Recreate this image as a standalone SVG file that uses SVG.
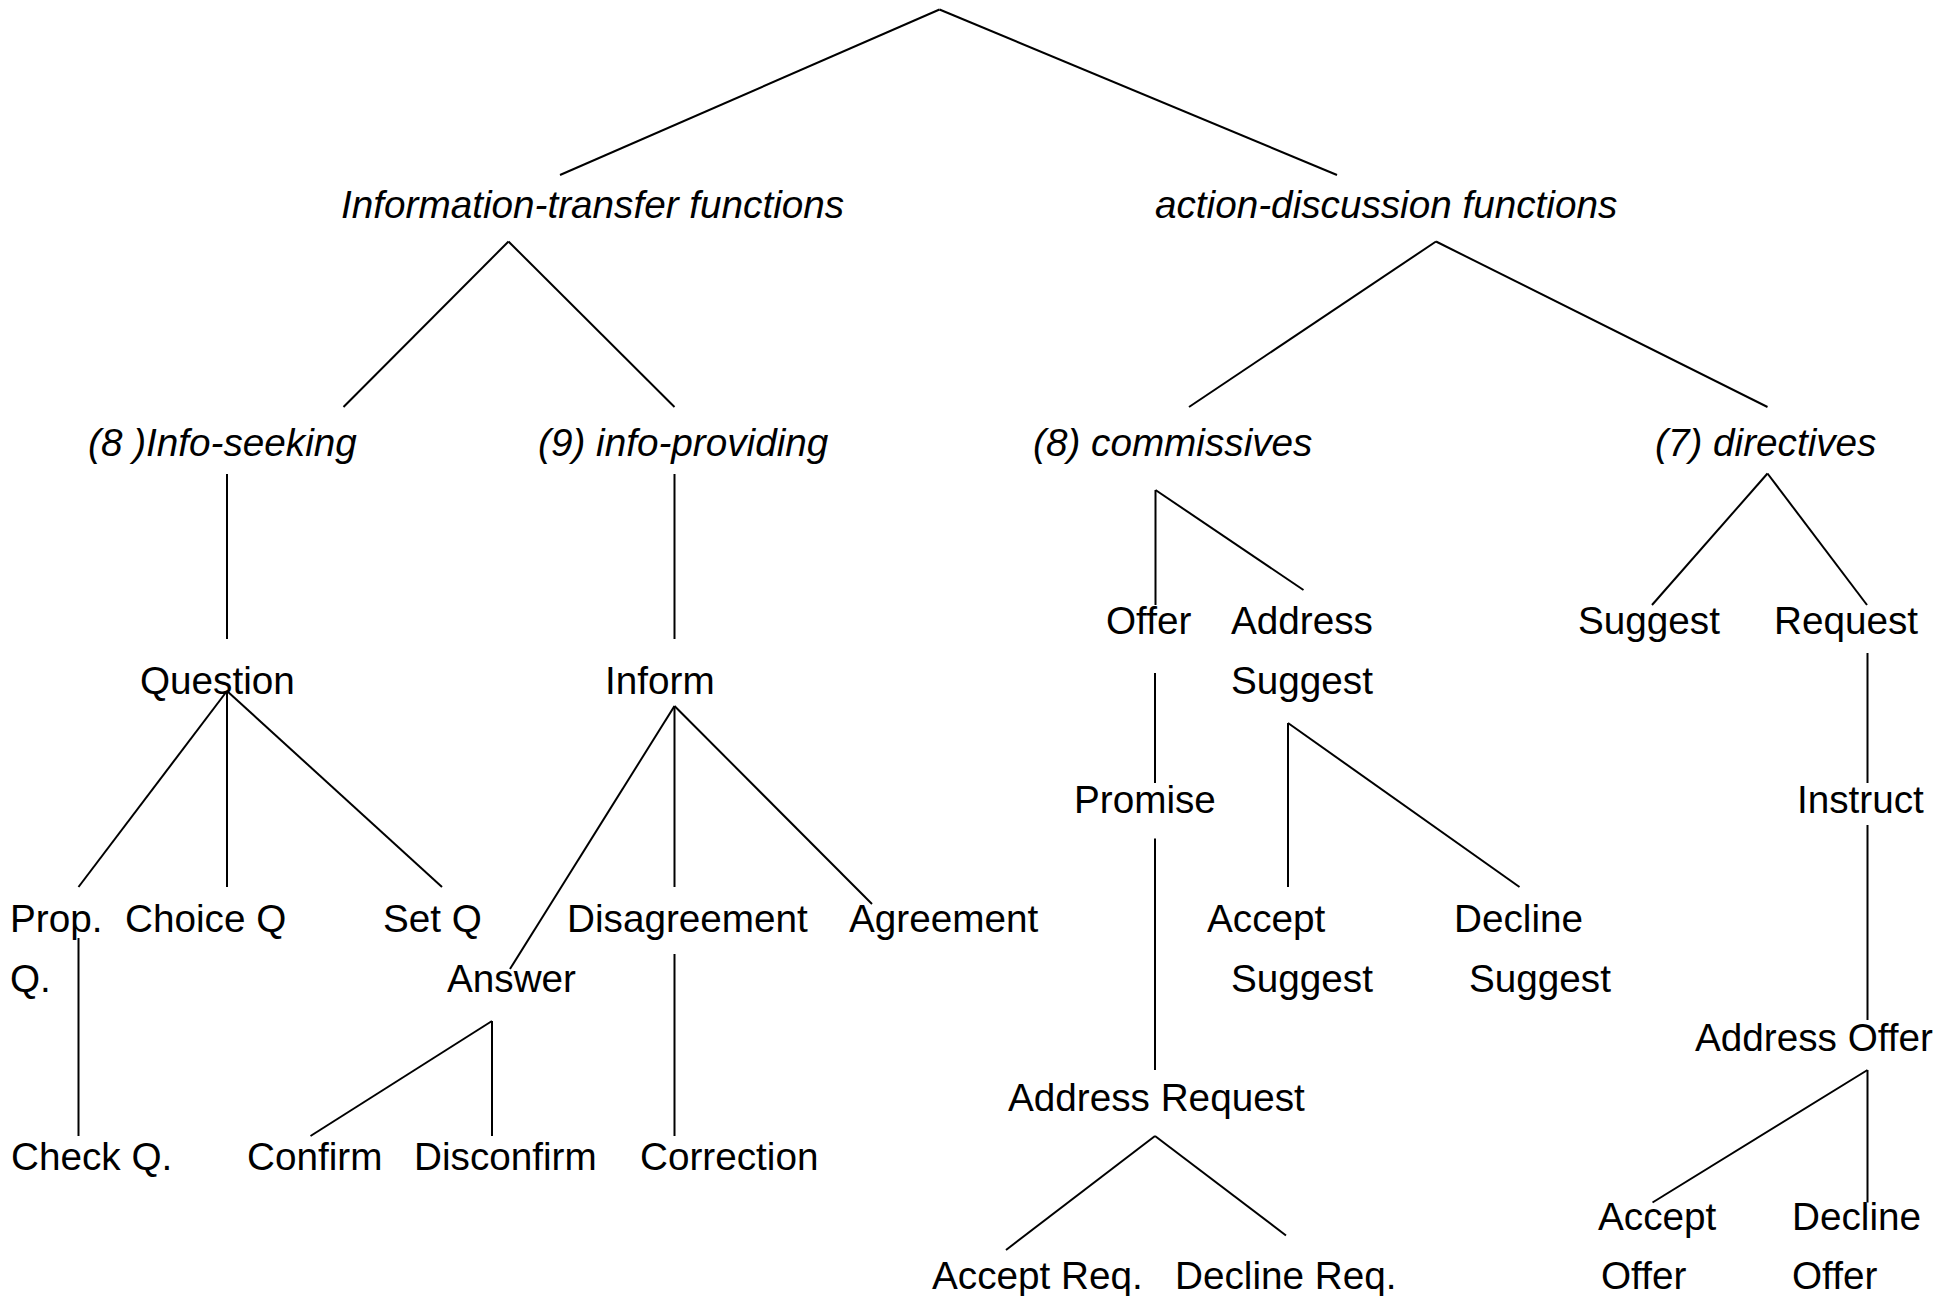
<svg xmlns="http://www.w3.org/2000/svg" width="1957" height="1296" viewBox="0 0 1957 1296">
<style>
.t{font-family:"Liberation Sans",Arial,sans-serif;font-size:38.7px;fill:#000}
.i{font-style:italic}
.c line{stroke:#000;stroke-width:2;fill:none}
</style>
<rect width="1957" height="1296" fill="#fff"/>
<g id="connectors" class="c">
<line x1="939.5" y1="9.5" x2="560" y2="175"/>
<line x1="939.5" y1="9.5" x2="1337" y2="175"/>
<line x1="508.5" y1="241.5" x2="343.5" y2="407"/>
<line x1="508.5" y1="241.5" x2="674.5" y2="407"/>
<line x1="1436" y1="241.5" x2="1189" y2="407"/>
<line x1="1436" y1="241.5" x2="1767.5" y2="407"/>
<line x1="227" y1="474" x2="227" y2="639"/>
<line x1="674.5" y1="474" x2="674.5" y2="639"/>
<line x1="227" y1="691" x2="78.5" y2="887"/>
<line x1="227" y1="691" x2="227" y2="887"/>
<line x1="227" y1="691" x2="442" y2="887"/>
<line x1="78.5" y1="938" x2="78.5" y2="1136"/>
<line x1="674.5" y1="706" x2="510" y2="969"/>
<line x1="674.5" y1="706" x2="674.5" y2="887"/>
<line x1="674.5" y1="706" x2="872" y2="904"/>
<line x1="674.5" y1="954" x2="674.5" y2="1136"/>
<line x1="492" y1="1021" x2="310.5" y2="1136"/>
<line x1="492" y1="1021" x2="492" y2="1136"/>
<line x1="1155.5" y1="490" x2="1155.5" y2="605"/>
<line x1="1155.5" y1="490" x2="1303.5" y2="590"/>
<line x1="1155" y1="673" x2="1155" y2="783"/>
<line x1="1155" y1="838.5" x2="1155" y2="1070"/>
<line x1="1288" y1="723" x2="1288" y2="887"/>
<line x1="1288" y1="723" x2="1519.5" y2="887"/>
<line x1="1155" y1="1136" x2="1006" y2="1250"/>
<line x1="1155" y1="1136" x2="1286" y2="1235.5"/>
<line x1="1767.5" y1="473.5" x2="1652" y2="605"/>
<line x1="1767.5" y1="473.5" x2="1867" y2="605"/>
<line x1="1867.5" y1="653" x2="1867.5" y2="783"/>
<line x1="1867.5" y1="825" x2="1867.5" y2="1020"/>
<line x1="1867.5" y1="1070" x2="1652.5" y2="1202.5"/>
<line x1="1867.5" y1="1070" x2="1867.5" y2="1202.5"/>
</g>
<g id="info-transfer"><text class="t i" x="341" y="217.5">Information-transfer functions</text></g>
<g id="action-discussion"><text class="t i" x="1155" y="217.5">action-discussion functions</text></g>
<g id="info-seeking"><text class="t i" x="88" y="455.7">(8 )Info-seeking</text></g>
<g id="info-providing"><text class="t i" x="538" y="455.7">(9) info-providing</text></g>
<g id="commissives"><text class="t i" x="1033" y="455.7">(8) commissives</text></g>
<g id="directives"><text class="t i" x="1655" y="455.7">(7) directives</text></g>
<g id="question"><text class="t" x="140" y="693.9">Question</text></g>
<g id="inform"><text class="t" x="605" y="693.9">Inform</text></g>
<g id="prop-q"><text class="t" x="10" y="932.1">Prop.</text><text class="t" x="10" y="991.6">Q.</text></g>
<g id="choice-q"><text class="t" x="125" y="932.1">Choice Q</text></g>
<g id="set-q"><text class="t" x="383" y="932.1">Set Q</text></g>
<g id="check-q"><text class="t" x="11" y="1170.3">Check Q.</text></g>
<g id="answer"><text class="t" x="447" y="991.6">Answer</text></g>
<g id="disagreement"><text class="t" x="567" y="932.1">Disagreement</text></g>
<g id="agreement"><text class="t" x="849" y="932.1">Agreement</text></g>
<g id="confirm"><text class="t" x="247" y="1170.3">Confirm</text></g>
<g id="disconfirm"><text class="t" x="414" y="1170.3">Disconfirm</text></g>
<g id="correction"><text class="t" x="640" y="1170.3">Correction</text></g>
<g id="offer"><text class="t" x="1106" y="634.4">Offer</text></g>
<g id="address-suggest"><text class="t" x="1231" y="634.4">Address</text><text class="t" x="1231" y="693.9">Suggest</text></g>
<g id="promise"><text class="t" x="1074" y="813">Promise</text></g>
<g id="accept-suggest"><text class="t" x="1207" y="932.1">Accept</text><text class="t" x="1231" y="991.6">Suggest</text></g>
<g id="decline-suggest"><text class="t" x="1454" y="932.1">Decline</text><text class="t" x="1469" y="991.6">Suggest</text></g>
<g id="address-request"><text class="t" x="1008" y="1110.7">Address Request</text></g>
<g id="accept-req"><text class="t" x="932" y="1289.4">Accept Req.</text></g>
<g id="decline-req"><text class="t" x="1175" y="1289.4">Decline Req.</text></g>
<g id="suggest"><text class="t" x="1578" y="634.4">Suggest</text></g>
<g id="request"><text class="t" x="1774" y="634.4">Request</text></g>
<g id="instruct"><text class="t" x="1797" y="813">Instruct</text></g>
<g id="address-offer"><text class="t" x="1695" y="1051.2">Address Offer</text></g>
<g id="accept-offer"><text class="t" x="1598" y="1229.9">Accept</text><text class="t" x="1601" y="1289.4">Offer</text></g>
<g id="decline-offer"><text class="t" x="1792" y="1229.9">Decline</text><text class="t" x="1792" y="1289.4">Offer</text></g>
</svg>
